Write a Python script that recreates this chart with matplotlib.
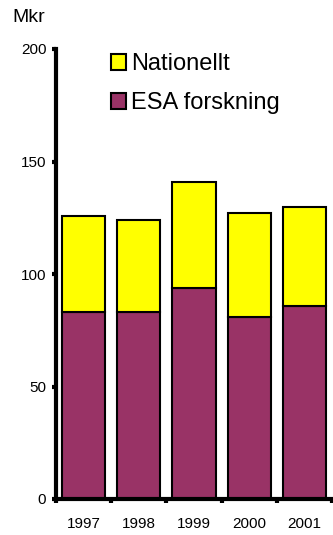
import matplotlib
matplotlib.use("Agg")
import matplotlib.pyplot as plt
from matplotlib.patches import Patch
import numpy as np

years = ["1997", "1998", "1999", "2000", "2001"]
esa = [83, 83, 94, 81, 86]
total = [126, 124, 141, 127, 130]
nationellt = [t - e for t, e in zip(total, esa)]

plt.rcParams['font.family'] = ['Liberation Sans', 'DejaVu Sans']

W, H = 333, 535
fig = plt.figure(figsize=(W / 100, H / 100), dpi=100)
ax = fig.add_axes([56 / W, 1 - 499 / H, 276 / W, 450 / H])

x = np.arange(len(years))
w = 0.78
ax.bar(x, esa, width=w, color="#993366", edgecolor="black", linewidth=1.5, zorder=2)
ax.bar(x, nationellt, bottom=esa, width=w, color="#FFFF00", edgecolor="black", linewidth=1.5, zorder=2)

ax.set_xlim(-0.5, len(years) - 0.5)
ax.set_ylim(0, 200)
ax.set_yticks([0, 50, 100, 150, 200])
ax.tick_params(axis='y', direction='out', length=3, width=3, labelsize=11, pad=4)
ax.set_xticks(x)
ax.set_xticklabels(years)
ax.tick_params(axis='x', which='major', length=0, labelsize=11, pad=13)
ax.set_xticks(np.arange(-0.5, len(years), 1.0), minor=True)
ax.tick_params(axis='x', which='minor', direction='out', length=3, width=3)

for s in ['top', 'right']:
    ax.spines[s].set_visible(False)
for s in ['left', 'bottom']:
    ax.spines[s].set_linewidth(3)

fig.text(12 / W, 1 - 17 / H, "Mkr", fontsize=14, ha='left', va='center')

handles = [Patch(facecolor="#FFFF00", edgecolor="black", linewidth=1.5),
           Patch(facecolor="#993366", edgecolor="black", linewidth=1.5)]
leg = fig.legend(handles, ["Nationellt", "ESA forskning"], loc='upper left',
                 bbox_to_anchor=(111 / W, 1 - 53 / H), frameon=False, fontsize=17,
                 handlelength=0.64, handleheight=0.64, handletextpad=0.22,
                 labelspacing=0.72, borderaxespad=0, borderpad=0)

fig.savefig("out.png", dpi=100)
